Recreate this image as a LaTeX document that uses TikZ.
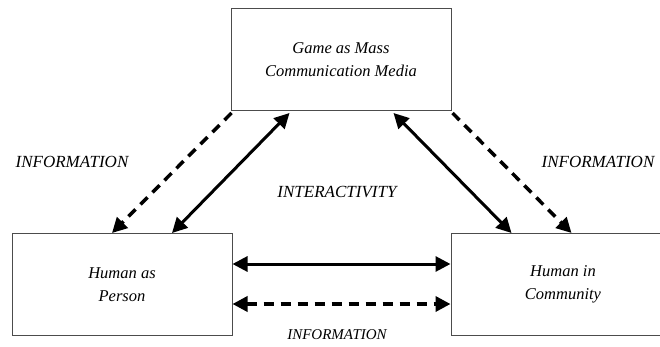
\documentclass[tikz,border=0pt]{standalone}
\usepackage{fontspec}
\setmainfont{Liberation Serif}
\usetikzlibrary{arrows.meta, positioning}

\begin{document}
\begin{tikzpicture}[x=1pt, y=-1pt, >={Triangle[length=15pt, width=15pt]}, line width=3pt,
        box/.style={draw=black!70, line width=1pt, minimum width=220pt, minimum height=102pt, align=center, font=\fontsize{16.5}{23}\selectfont\itshape},
        lbl/.style={font=\fontsize{17}{20}\selectfont\itshape},
        dash line/.style={line width=3.5pt, dash pattern=on 10pt off 7pt}]
        \useasboundingbox (0, 0) rectangle (660, 347);
        \node [box] (media) at (341, 59.5) {Game as Mass\\Communication Media};
        \node [box] (person) at (122, 284.5) {Human as\\Person};
        \node [box, minimum width=224pt] (community) at (563, 284.5) {Human in\\Community};
        \node [lbl] (infoleft) at (72, 162) {INFORMATION};
        \node [lbl] (inforight) at (598, 162) {INFORMATION};
        \node [lbl] (interact) at (337, 192) {INTERACTIVITY};
        \node [lbl, font=\fontsize{15}{18}\selectfont\itshape] (infobottom) at (337, 335) {INFORMATION};
        \draw [->, dash line] ([xshift=1pt, yshift=-2pt]media.south west) -- ([xshift=-10pt]person.north);
        \draw [<->] ([xshift=59pt, yshift=-2pt]media.south west) -- ([xshift=50pt]person.north);
        \draw [<->] ([xshift=-58pt, yshift=-2pt]media.south east) -- ([xshift=61pt]community.north west);
        \draw [->, dash line] ([xshift=1pt, yshift=-2pt]media.south east) -- ([xshift=121pt]community.north west);
        \draw [<->] ([yshift=20.5pt]person.east) -- ([yshift=20.5pt]community.west);
        \draw [<->, dash line] ([yshift=-19.5pt]person.east) -- ([yshift=-19.5pt]community.west);
    \end{tikzpicture}
\end{document}
